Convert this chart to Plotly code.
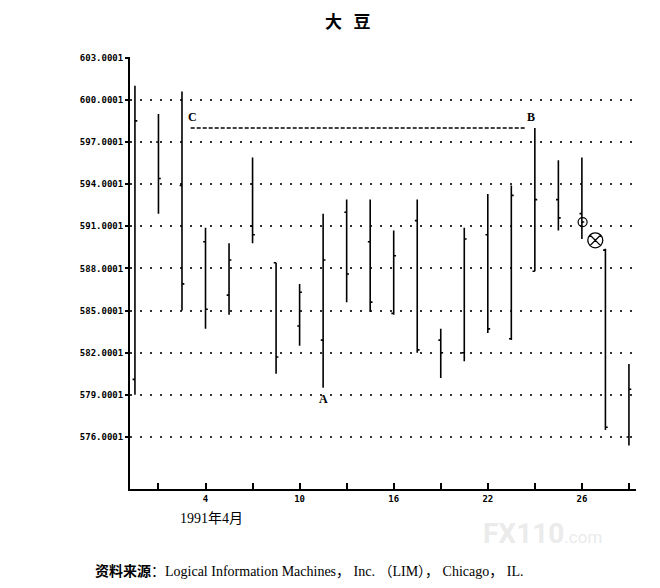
import plotly.graph_objects as go

# soybean daily bars, April 1991 (trading days only)
days = [1, 2, 3, 4, 5, 8, 9, 10, 11, 12, 15, 16, 17, 18, 19, 22, 23, 24, 25, 26, 29, 30]
opens = [580.1, 597.0, 593.9, 589.9, 586.1, 591.0, 588.4, 583.9, 582.9, 592.0, 589.9, 584.8,
         591.4, 582.9, 582.0, 590.4, 583.0, 587.8, 592.9, 591.9, 589.3, 576.0]
highs = [601.0, 599.0, 600.6, 590.9, 589.8, 595.9, 588.4, 586.9, 591.9, 592.9, 592.9, 590.7,
         592.9, 583.7, 590.9, 593.3, 593.9, 598.0, 595.7, 595.9, 589.4, 581.2]
lows = [579.0, 591.9, 585.0, 583.7, 584.7, 589.8, 580.5, 582.5, 579.5, 585.6, 584.9, 584.7,
        582.0, 580.2, 581.4, 583.4, 582.9, 587.8, 590.7, 590.1, 576.5, 575.4]
closes = [598.5, 594.4, 586.9, 585.1, 588.6, 590.4, 581.7, 586.3, 588.6, 587.6, 585.6, 588.9,
          582.2, 582.0, 590.1, 583.7, 593.2, 592.9, 591.6, 591.3, 576.7, 579.4]

y_ticks = [576, 579, 582, 585, 588, 591, 594, 597, 600, 603]
y_labels = [f"{v}.0001" for v in y_ticks]
labeled_days = [4, 10, 16, 22, 26]

# C-B resistance line and markers
line_level = 598.0
line_start, line_end = 2.37, 16.62
circle_pt = (19.03, 591.3)
cross_pt = (19.57, 590.0)

idx = list(range(len(days)))
tick_idx = idx[1::2]
tick_text = [str(days[i]) if days[i] in labeled_days else "" for i in tick_idx]

fig = go.Figure()
fig.add_trace(go.Ohlc(x=idx, open=opens, high=highs, low=lows, close=closes,
                      increasing=dict(line=dict(color="black", width=1.6)),
                      decreasing=dict(line=dict(color="black", width=1.6)),
                      tickwidth=0.1, hoverinfo="skip", showlegend=False))
fig.add_trace(go.Scatter(x=[line_start, line_end], y=[line_level, line_level], mode="lines",
                         line=dict(color="black", width=1.5, dash="4px,2px"), showlegend=False))
fig.add_trace(go.Scatter(x=[circle_pt[0]], y=[circle_pt[1]], mode="markers",
                         marker=dict(symbol="circle-open", size=9, color="black", line=dict(width=1.2)),
                         showlegend=False))
fig.add_trace(go.Scatter(x=[cross_pt[0]], y=[cross_pt[1]], mode="markers",
                         marker=dict(symbol="circle-x-open", size=15, color="black", line=dict(width=1.3)),
                         showlegend=False))

lbl = dict(family="Liberation Serif", size=12, color="black", weight="bold")
fig.add_annotation(x=2.45, y=598.8, text="C", showarrow=False, font=lbl)
fig.add_annotation(x=16.85, y=598.8, text="B", showarrow=False, font=lbl)
fig.add_annotation(x=8.0, y=578.7, text="A", showarrow=False, font=lbl)

fig.add_annotation(xref="paper", yref="paper", x=0.431, y=1.085, yanchor="middle",
                   text="大&nbsp;&nbsp;&nbsp;豆", showarrow=False,
                   font=dict(family="Noto Sans CJK SC", size=17, color="black", weight="bold"))
fig.add_annotation(xref="paper", yref="paper", x=0.095, y=-0.069, xanchor="left", yanchor="middle",
                   text="1991年4月", showarrow=False,
                   font=dict(family="Liberation Serif, Noto Sans CJK SC", size=14, color="black"))
fig.add_annotation(xref="paper", yref="paper", x=-0.073, y=-0.19, xanchor="left", yanchor="middle",
                   text="<b>资料来源</b>：Logical Information Machines， Inc. （LIM）， Chicago， IL.",
                   showarrow=False, font=dict(family="Liberation Serif, Noto Sans CJK SC", size=14, color="black"))
fig.add_annotation(xref="paper", yref="paper", x=0.694, y=-0.104, xanchor="left", yanchor="middle",
                   text="<b>FX110</b><span style='font-size:17px'>.com</span>", showarrow=False,
                   font=dict(family="Roboto", size=28, color="#ebebeb"))

# page body adds an 8px margin, so the figure is a little smaller than the window
fig.update_layout(
    width=644, height=572,
    margin=dict(l=122, r=16, t=49, b=91),
    plot_bgcolor="white", paper_bgcolor="white",
    xaxis=dict(range=[-0.21, 21.3], tickvals=tick_idx, ticktext=tick_text,
               ticks="inside", ticklen=6, tickwidth=2, tickcolor="black",
               showline=True, linewidth=2, linecolor="black", showgrid=False, zeroline=False,
               rangeslider=dict(visible=False),
               tickfont=dict(family="DejaVu Sans Mono", size=9, color="black", weight="bold")),
    yaxis=dict(range=[572.3, 603.05], tickvals=y_ticks, ticktext=y_labels,
               ticks="outside", ticklen=3, tickwidth=1.5, tickcolor="black",
               showline=True, linewidth=2, linecolor="black", zeroline=False,
               showgrid=True, gridcolor="#333", gridwidth=1.5, griddash="1.5px,8.5px",
               tickfont=dict(family="DejaVu Sans Mono", size=9, color="black", weight="bold")),
)

fig.write_html("out.html")
